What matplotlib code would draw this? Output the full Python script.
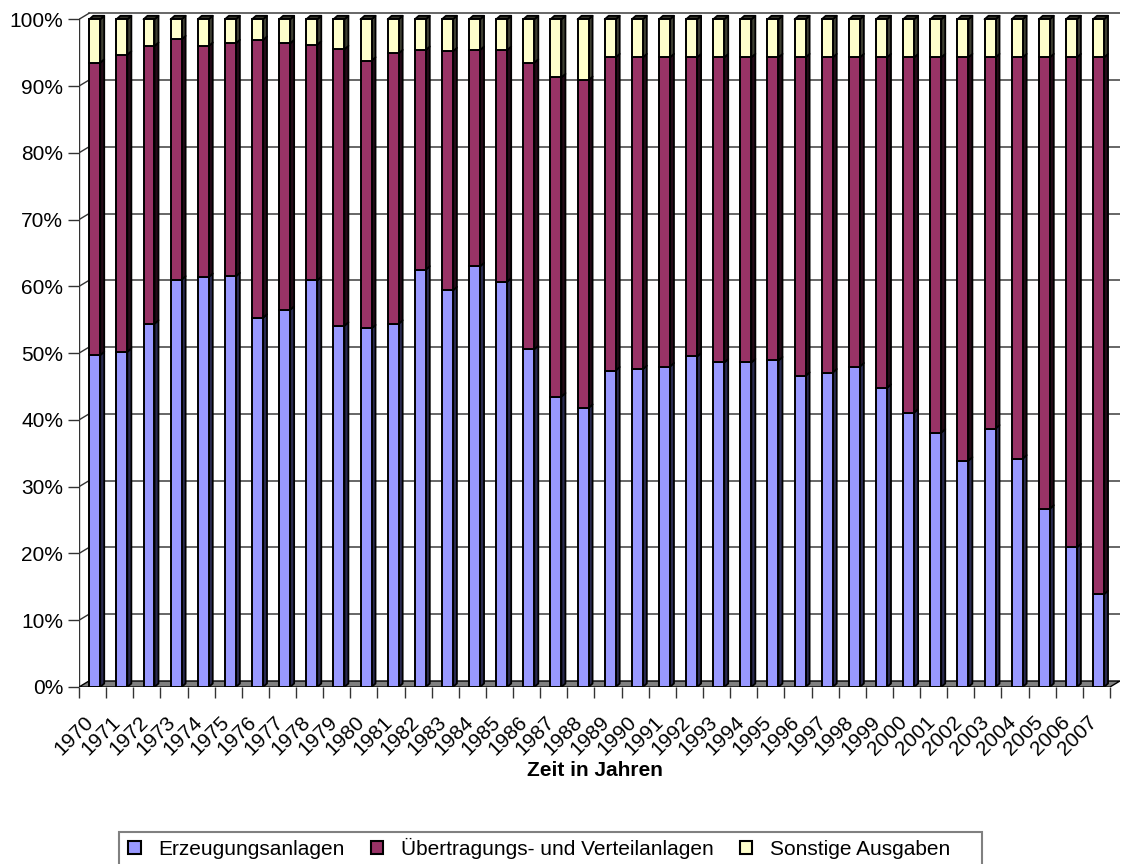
import numpy as np
import matplotlib.pyplot as plt
from matplotlib.patches import Patch, Polygon, Rectangle
from matplotlib.collections import PolyCollection
from matplotlib.transforms import ScaledTranslation

plt.rcParams['font.family'] = ['Liberation Sans', 'DejaVu Sans']

# Anteile der Investitionen in Prozent
years = list(range(1970, 2008))
erzeugung = [49.7, 50.2, 54.4, 61.0, 61.4, 61.5, 55.3, 56.5, 60.9, 54.1,
             53.7, 54.4, 62.5, 59.4, 63.0, 60.7, 50.6, 43.5, 41.8, 47.4,
             47.6, 48.0, 49.5, 48.6, 48.6, 48.9, 46.6, 47.1, 48.0, 44.8,
             41.1, 38.1, 33.9, 38.7, 34.2, 26.7, 20.9, 13.9]
uebertragung = [43.8, 44.5, 41.6, 36.0, 34.6, 34.9, 41.6, 39.9, 35.3, 41.4,
                40.1, 40.5, 32.9, 35.8, 32.4, 34.7, 42.9, 47.8, 49.1, 46.9,
                46.7, 46.3, 44.8, 45.7, 45.7, 45.4, 47.7, 47.2, 46.3, 49.5,
                53.2, 56.2, 60.4, 55.6, 60.1, 67.6, 73.4, 80.4]
sonstige = [6.5, 5.3, 4.0, 3.0, 4.0, 3.6, 3.1, 3.6, 3.8, 4.5,
            6.2, 5.1, 4.6, 4.8, 4.6, 4.6, 6.5, 8.7, 9.1, 5.7,
            5.7, 5.7, 5.7, 5.7, 5.7, 5.7, 5.7, 5.7, 5.7, 5.7,
            5.7, 5.7, 5.7, 5.7, 5.7, 5.7, 5.7, 5.7]

series = [
    ('Erzeugungsanlagen', erzeugung, '#9999ff', '#2a2a50'),
    ('Übertragungs- und Verteilanlagen', uebertragung, '#993366', '#240a18'),
    ('Sonstige Ausgaben', sonstige, '#ffffcc', '#3e3e32'),
]

FS = 15
W, H = 1122, 864
fig = plt.figure(figsize=(W / 100, H / 100), dpi=100)

# pixel layout of the front plane
x0, x1, y0, ytop = 79, 1120, 687, 12
px_cat = 27.13   # pixels per category
px_pct = 6.677   # pixels per percent
ax = fig.add_axes([x0 / W, (H - y0) / H, (x1 - x0) / W, (y0 - ytop) / H])
ax.set_xlim(-0.5, -0.5 + (x1 - x0) / px_cat)
ax.set_ylim(0, (y0 - ytop) / px_pct)
for s in ax.spines.values():
    s.set_visible(False)

n = len(years)
x = np.arange(n)

# depth of the back wall and of the bars, in data units
wall_dx, wall_dy = 10 / px_cat, 6 / px_pct
bar_dx, bar_dy = 4 / px_cat, 3.5 / px_pct
bar_off, bar_w = 0.08, 0.405

# floor
floor = Polygon([(-0.5, 0), (n - 0.5, 0), (n - 0.5 + wall_dx, wall_dy),
                 (-0.5 + wall_dx, wall_dy)], closed=True,
                facecolor='#808080', edgecolor='black', lw=1, zorder=1)
ax.add_patch(floor)

# gridlines on the back wall
for v in range(10, 101, 10):
    ax.plot([-0.5 + wall_dx, n - 0.5 + wall_dx], [v + wall_dy, v + wall_dy],
            color='#4d4d4d', lw=1.2, zorder=0.5)
    ax.plot([-0.5, -0.5 + wall_dx], [v, v + wall_dy],
            color='#333333', lw=1.0, zorder=0.5)
ax.plot([-0.5, -0.5], [0, 100], color='#333333', lw=1.0, zorder=0.6)

# stacked columns with side and top faces
bottom = np.zeros(n)
for k, (name, vals, color, side) in enumerate(series):
    vals = np.array(vals, dtype=float)
    top = bottom + vals
    xl = x + bar_off - bar_w / 2
    xr = x + bar_off + bar_w / 2
    sides = [[(xr[i], bottom[i]), (xr[i] + bar_dx, bottom[i] + bar_dy),
              (xr[i] + bar_dx, top[i] + bar_dy), (xr[i], top[i])]
             for i in range(n)]
    ax.add_collection(PolyCollection(sides, facecolors=side,
                                     edgecolors='black', linewidths=1.3,
                                     zorder=2.5))
    if k == len(series) - 1:
        tops = [[(xl[i], top[i]), (xr[i], top[i]),
                 (xr[i] + bar_dx, top[i] + bar_dy),
                 (xl[i] + bar_dx, top[i] + bar_dy)] for i in range(n)]
        ax.add_collection(PolyCollection(tops, facecolors='#33332a',
                                         edgecolors='black', linewidths=1.3,
                                         zorder=2.5))
    ax.bar(x + bar_off, vals, bar_w, bottom=bottom, color=color,
           edgecolor='black', lw=1.4, zorder=3)
    bottom = top

# y axis
ax.set_yticks(range(0, 101, 10))
ax.set_yticklabels([f'{v}%' for v in range(0, 101, 10)])
ax.tick_params(axis='y', length=7.9, width=1, pad=3.6, labelsize=FS,
               color='#333333')

# x axis: ticks between categories, rotated year labels
ax.set_xticks(np.arange(-0.5, n, 1))
ax.set_xticklabels([])
ax.tick_params(axis='x', length=7.9, width=1, color='#333333')
shift = ScaledTranslation(-2 / 100, -32 / 100, fig.dpi_scale_trans)
for i, yr in enumerate(years):
    ax.text(i, 0, str(yr), transform=ax.transData + shift, rotation=45,
            ha='right', va='center', rotation_mode='anchor', fontsize=FS,
            clip_on=False)

fig.text((x0 + x0 + 1031) / 2 / W, 1 - 771 / H, 'Zeit in Jahren',
         ha='center', va='center', fontsize=FS, fontweight='bold')

# legend box drawn separately so its padding can be set per side
fig.add_artist(Rectangle((119 / W, 1 - 866 / H), (982 - 119) / W, 34 / H,
                         transform=fig.transFigure, facecolor='white',
                         edgecolor='#808080', lw=1.5, zorder=1))
handles = [Patch(facecolor=c, edgecolor='black', lw=1.5, label=name)
           for name, _, c, _ in series]
leg = fig.legend(handles=handles, loc='center left', ncol=3,
                 bbox_to_anchor=(128 / W, 1 - 848 / H), fontsize=FS,
                 frameon=False, handlelength=0.6, handleheight=0.6,
                 handletextpad=0.85, columnspacing=1.25, borderpad=0,
                 borderaxespad=0)
leg.set_zorder(2)

fig.savefig('out.png', dpi=100)
